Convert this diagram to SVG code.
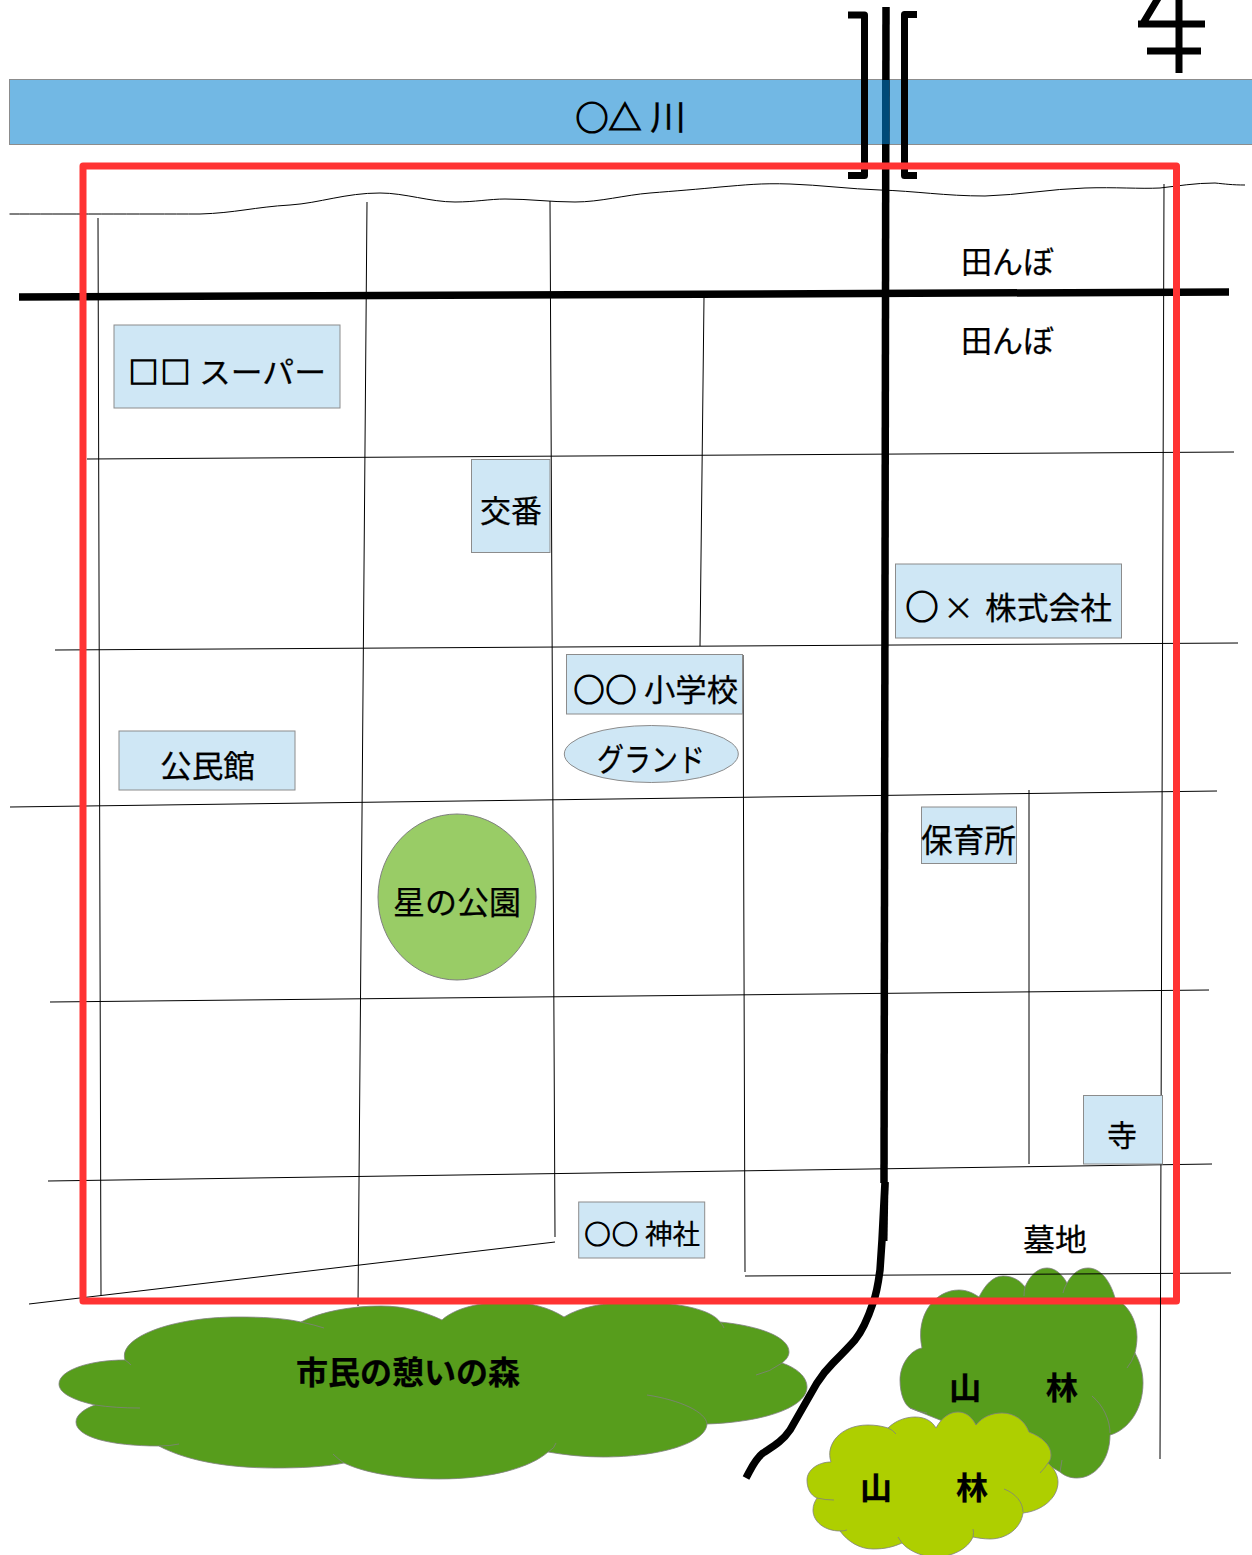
<svg xmlns="http://www.w3.org/2000/svg" width="1252" height="1555" viewBox="0 0 1252 1555">
<style>
text{font-family:"Noto Sans CJK JP","Liberation Sans",sans-serif;fill:#000;stroke:#000;stroke-width:.25}
.b{fill:#cfe7f5;stroke:#8c8c8c;stroke-width:1}
.road{fill:none;stroke:#000;stroke-width:1}
.thick{fill:none;stroke:#000;stroke-width:7.500}
.cl{stroke:#808080;stroke-width:.8}
.tail{fill:none;stroke:#808080;stroke-width:.8}
.bold{font-weight:700}
.h{stroke:#000;stroke-width:1.200}
</style>
<rect width="1252" height="1555" fill="#fff"/>
<g id="river">
<rect x="9.500" y="79.500" width="1243" height="65" fill="#72b8e4" stroke="#8c8c8c" stroke-width="1"/>
<text y="130" font-size="33"><tspan x="575.500 608.500" class="h">○△</tspan> <tspan x="650" font-size="35" textLength="36" lengthAdjust="spacingAndGlyphs">川</tspan></text>
</g>
<g id="forest-citizens">
<path class="cl" fill="#579d1c" d="M125,1360C118,1338 170,1317 238,1317C262,1317 283,1318 301,1322C320,1312 350,1306 381,1306C405,1306 425,1312 442,1320C455,1308 480,1302 508,1302C530,1302 550,1308 564,1317C580,1307 605,1302 635,1302C680,1302 712,1310 720,1322C760,1326 789,1337 789,1352C789,1356 786,1360 782,1363C797,1368 807,1377 807,1387C807,1407 765,1422 707,1424C706,1443 660,1457 603,1457C585,1457 565,1455 548,1452C530,1468 490,1479 439,1479C400,1479 365,1473 344,1463C325,1467 300,1468 275,1468C225,1468 185,1460 159,1446C110,1446 76,1437 76,1422C76,1415 84,1409 95,1405C73,1400 59,1393 59,1384C59,1370 90,1360 125,1360Z"/>
<path class="tail" d="M301,1322Q315,1325 324,1328M720,1322Q723,1325 724,1328M782,1363Q770,1372 756,1375M647,1395C680,1400 706,1412 707,1424M548,1452Q555,1448 556,1443M344,1463Q338,1459 333,1454M159,1446Q170,1446 179,1444M95,1405Q115,1408 140,1408M125,1360Q128,1362 131,1365"/>
<text class="bold" x="296" y="1384" font-size="32" textLength="224" lengthAdjust="spacingAndGlyphs">市民の憩いの森</text>
</g>
<g id="forest-dark">
<path class="cl" fill="#579d1c" d="M922,1348C915,1315 935,1290 959,1290C967,1290 973,1293 979,1297C985,1285 993,1276 1003,1276C1012,1276 1020,1280 1025,1287C1030,1275 1038,1268 1047,1268C1055,1268 1062,1274 1067,1283C1072,1274 1079,1268 1088,1268C1100,1268 1110,1280 1115,1298C1128,1305 1137,1320 1137,1337C1137,1343 1136,1348 1135,1353C1140,1362 1143,1372 1143,1383C1143,1410 1128,1430 1110,1435C1110,1460 1095,1478 1077,1478C1070,1478 1065,1476 1060,1472L1040,1460L910,1408C905,1405 900,1395 900,1380C900,1365 910,1350 922,1348Z"/>
<path class="tail" d="M1135,1353Q1132,1362 1127,1368M1092,1396C1103,1405 1110,1420 1110,1433M1060,1472Q1061,1466 1062,1460M910,1408Q918,1412 927,1413M1025,1287Q1024,1291 1024,1296M1067,1283Q1064,1288 1063,1293"/>
<text class="bold" x="949" y="1399" font-size="31" textLength="129" lengthAdjust="spacingAndGlyphs">山　　林</text>
</g>
<g id="forest-light">
<path class="cl" fill="#aecf00" d="M831,1462C825,1445 840,1425 868,1425C875,1425 882,1426 888,1428C895,1421 905,1417 915,1417C925,1417 932,1421 936,1428C942,1417 950,1412 958,1412C966,1412 972,1417 976,1425C982,1417 992,1413 1002,1413C1015,1413 1025,1421 1029,1432C1042,1437 1051,1445 1051,1455C1051,1458 1050,1461 1048,1463C1054,1468 1058,1475 1058,1482C1058,1498 1042,1511 1023,1513C1021,1528 1007,1539 990,1539C984,1539 978,1538 973,1537C968,1549 952,1557 935,1557C920,1557 907,1549 902,1543C893,1547 885,1549 873,1549C860,1549 848,1542 840,1531C825,1531 813,1522 813,1510C813,1505 815,1501 817,1498C810,1495 807,1488 807,1480C807,1470 818,1462 831,1462Z"/>
<path class="tail" d="M888,1428Q893,1430 896,1434M1048,1463Q1045,1468 1040,1473M1004,1489C1015,1493 1023,1502 1023,1512M973,1537Q974,1532 973,1529M902,1543L898,1537M840,1531Q844,1531 847,1530M817,1498Q825,1500 834,1500"/>
<text class="bold" x="860" y="1499" font-size="31" textLength="128" lengthAdjust="spacingAndGlyphs">山　　林</text>
</g>
<g id="connectors">
<path class="road" d="M9.500,214C60,214 140,214 200,214C235,213 255,207 290,205C320,203 345,193 380,193C405,193 430,202 455,202C475,202 490,199 505,199C530,199 550,202 575,202C600,202 625,195 650,193C675,191 700,189 720,187C745,185 760,183 790,184C820,185 850,189 880,190C915,191 945,196 985,196C1020,195 1050,189 1085,188C1115,187 1140,189 1160,188C1178,186 1195,183 1215,183C1225,184 1232,185 1245,185"/>
<path class="road" d="M87,459L1234,452M55,650L1238,643M10,807L1217,791M50,1002L1209,990M48,1181L1212,1164M745,1276L1231,1273M29,1304L555,1242M98,218L101,1296M367,202L358,1306M550,201L555,1237M704,297L700,646M743,655L745,1272M1029,790L1029,1164"/>
<path class="thick" d="M19,297L1229,292"/>
<path class="thick" d="M886,7L884,1183"/>
<rect x="882" y="80" width="7.500" height="64" fill="#004a78"/>
<path fill="none" stroke="#000" stroke-width="7.500" d="M885,1182L882,1240L880,1270C878,1285 877,1293 873,1303C868,1318 863,1330 855,1340C848,1348 840,1356 833,1363C827,1369 822,1375 817,1383L790,1430C782,1442 772,1447 763,1453C755,1459 751,1469 746,1478"/>
<path fill="none" stroke="#000" stroke-width="4" d="M886.500,1182L885.500,1241"/>
<path fill="none" stroke="#000" stroke-width="7" stroke-linejoin="round" d="M848,15L864.500,15L864.500,175.500L848,175.500M917,14.500L904.500,14.500L904.500,175.500L917,175.500"/>
<path fill="none" stroke="#000" stroke-width="7" d="M1179,0L1179,73M1138,24L1205,24M1147,51L1201,51M1142,25L1160,-5"/>
<rect x="83" y="166" width="1093.500" height="1135" fill="none" stroke="#ff3333" stroke-width="7" stroke-linejoin="round"/>
<path class="road" d="M1164,184L1160,1459"/>
</g>
<g id="n-supermarket"><rect class="b" x="114" y="325" width="226" height="83"/><text y="383" font-size="30"><tspan x="128.500 160.500" class="h">□□</tspan> <tspan x="199" textLength="127" lengthAdjust="spacingAndGlyphs">スーパー</tspan></text></g>
<g id="n-rice1"><text x="961" y="273" font-size="31" textLength="93" lengthAdjust="spacingAndGlyphs">田んぼ</text></g>
<g id="n-rice2"><text x="961" y="352" font-size="31" textLength="93" lengthAdjust="spacingAndGlyphs">田んぼ</text></g>
<g id="n-koban"><rect class="b" x="471.500" y="459.500" width="78.500" height="93"/><text x="480" y="522" font-size="31" textLength="62" lengthAdjust="spacingAndGlyphs">交番</text></g>
<g id="n-company"><rect class="b" x="895.500" y="564" width="226" height="74"/><text y="619" font-size="33"><tspan x="905.500" class="h">○</tspan><tspan x="943" font-size="31">×</tspan> <tspan x="985" font-size="31" textLength="127" lengthAdjust="spacingAndGlyphs">株式会社</tspan></text></g>
<g id="n-school"><rect class="b" x="566.500" y="654.500" width="176" height="59.500"/><text y="701" font-size="31"><tspan x="573.500 605.500" class="h">○○</tspan> <tspan x="644" textLength="94" lengthAdjust="spacingAndGlyphs">小学校</tspan></text></g>
<g id="n-ground"><ellipse class="b" cx="651.300" cy="754" rx="87" ry="28.500"/><text x="597" y="771" font-size="32" textLength="108" lengthAdjust="spacingAndGlyphs">グランド</text></g>
<g id="n-hall"><rect class="b" x="119" y="731" width="176" height="59"/><text x="160" y="777" font-size="31" textLength="95" lengthAdjust="spacingAndGlyphs">公民館</text></g>
<g id="n-nursery"><rect class="b" x="921.500" y="807" width="95" height="56.500"/><text x="921" y="852" font-size="32" textLength="95" lengthAdjust="spacingAndGlyphs">保育所</text></g>
<g id="n-park"><ellipse cx="457" cy="897" rx="79" ry="83" fill="#99cc66" stroke="#808080" stroke-width="1"/><text x="393" y="914" font-size="32" textLength="128" lengthAdjust="spacingAndGlyphs">星の公園</text></g>
<g id="n-temple"><rect class="b" x="1083.500" y="1095.500" width="79" height="68.500"/><text x="1107" y="1146" font-size="30" textLength="30" lengthAdjust="spacingAndGlyphs">寺</text></g>
<g id="n-shrine"><rect class="b" x="578.700" y="1202" width="126" height="56"/><text y="1244" font-size="26"><tspan x="584.500 612" class="h">○○</tspan> <tspan x="645" font-size="27" textLength="55" lengthAdjust="spacingAndGlyphs">神社</tspan></text></g>
<g id="n-cemetery"><text x="1023" y="1251" font-size="31" textLength="64" lengthAdjust="spacingAndGlyphs">墓地</text></g>
</svg>
